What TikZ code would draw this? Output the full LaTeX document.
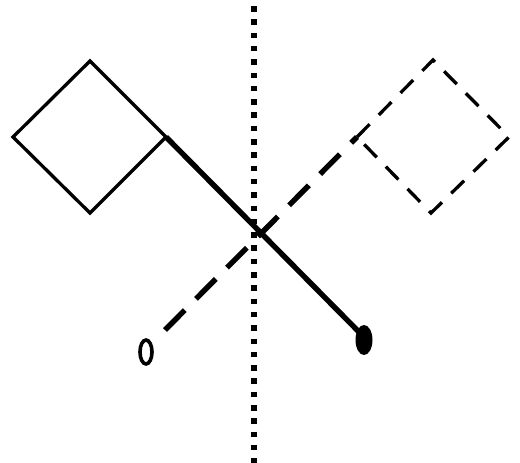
\documentclass[tikz,border=0pt]{standalone}
\usepackage{tikz}
\usetikzlibrary{calc}

\begin{document}
\begin{tikzpicture}[
  x=1pt, y=-1pt,
  flag/.style={line width=3.3pt, line join=miter},
  pole/.style={line width=5.4pt},
  ghost/.style={dash pattern=on 18pt off 13pt},
  ghostpole/.style={pole, dash pattern=on 28pt off 16pt},
  mirror/.style={line width=6pt, dash pattern=on 5.5pt off 7.8pt},
]
  \useasboundingbox (0,0) rectangle (520,463);

  % ── Mirror line ───────────────────────────────────
  \coordinate (mtop) at (253.5,6);
  \coordinate (mbot) at (253.5,463);
  \draw[mirror] (mtop) -- (mbot);

  % ── Original flag (solid) ─────────────────────────
  \coordinate (fL) at (13,137);
  \coordinate (fT) at (90,61);
  \coordinate (fR) at (166,137);   % top of the pole
  \coordinate (fB) at (90,213);
  \coordinate (tip) at (361,334);
  \draw[flag] (fL) -- (fT) -- (fR) -- (fB) -- cycle;
  \draw[pole] (fR) -- (tip);
  \fill (364,340) ellipse [x radius=8.5pt, y radius=15pt];

  % ── Mirrored flag (dashed) ────────────────────────
  \coordinate (gL) at (357,137);   % top of the mirrored pole
  \coordinate (gT) at (433,60);
  \coordinate (gR) at (509,137);
  \coordinate (gB) at (431,213);
  \coordinate (gtip) at (165,330);
  \draw[ghostpole] (gtip) -- (gL);
  \draw[flag, ghost] (gL) -- (gT) -- (gR) -- (gB) -- cycle;
  \draw[line width=3.6pt] (146,352) ellipse [x radius=6pt, y radius=12pt];

\end{tikzpicture}
\end{document}
